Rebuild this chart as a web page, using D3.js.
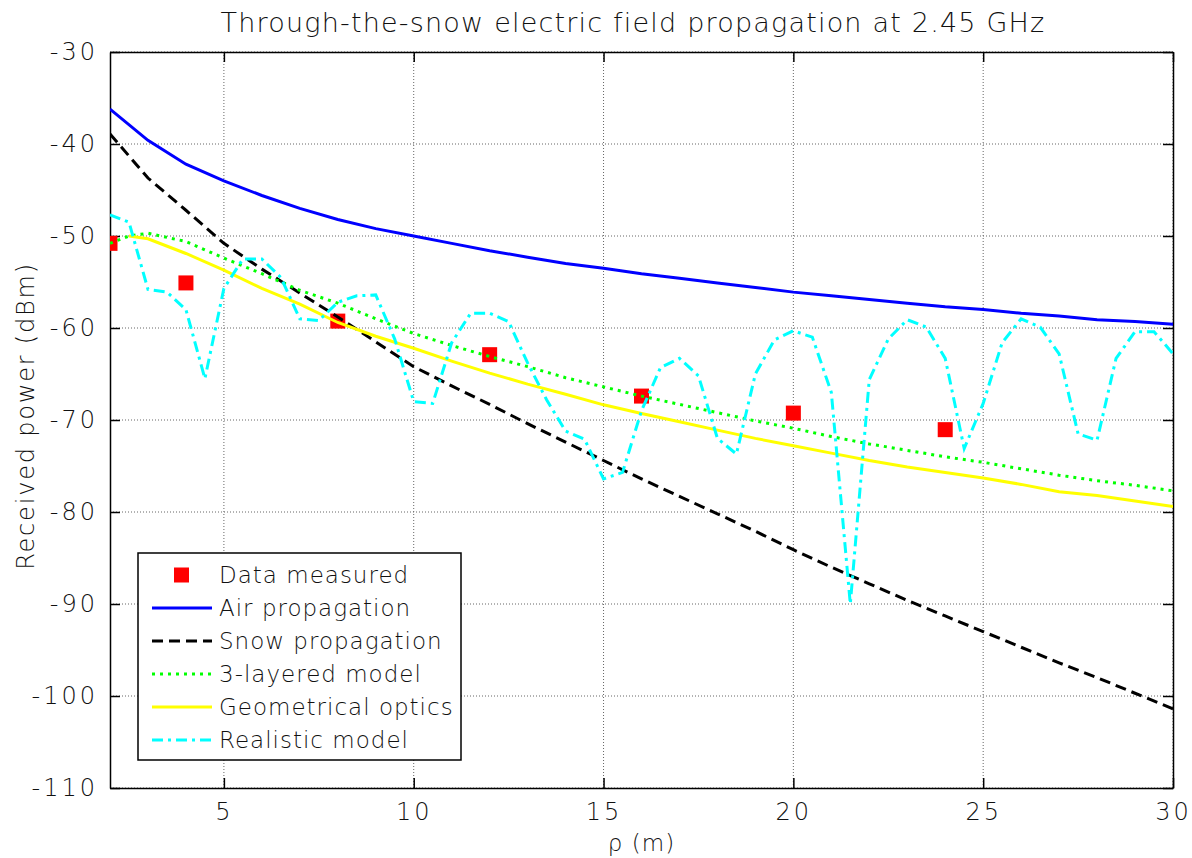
<!DOCTYPE html>
<html>
<head>
<meta charset="utf-8">
<script src="https://cdn.jsdelivr.net/npm/d3@7"></script>
<style>
  body { margin: 0; background: #fff; }
  text { font-family: "DejaVu Sans", sans-serif; font-weight: 200; fill: #111; }
</style>
</head>
<body>
<div id="chart"></div>
<script>
// distances (m)
const rho = [2, 3, 4, 5, 6, 7, 8, 9, 10, 11, 12, 13, 14, 15, 16, 17, 18, 19, 20, 21, 22, 23, 24, 25, 26, 27, 28, 29, 30];
const airPower = [-36.2, -39.6, -42.2, -44.0, -45.6, -47.0, -48.2, -49.2, -50.0, -50.8, -51.6, -52.3, -53.0, -53.5, -54.1, -54.6, -55.1, -55.6, -56.1, -56.5, -56.9, -57.3, -57.7, -58.0, -58.4, -58.7, -59.1, -59.3, -59.6];
const snowPower = [-38.9, -43.7, -47.2, -50.8, -53.6, -56.2, -58.8, -61.5, -64.2, -66.3, -68.3, -70.4, -72.4, -74.4, -76.4, -78.3, -80.2, -82.1, -84.1, -86.0, -87.8, -89.6, -91.3, -93.0, -94.7, -96.4, -98.0, -99.7, -101.4];

const layeredRho = [2, 2.5, 3, 4, 5, 6, 7, 8, 9, 10, 11, 12, 13, 14, 15, 16, 17, 18, 19, 20, 21, 22, 23, 24, 25, 26, 27, 28, 29, 30];
const layeredPower = [-50.8, -50.0, -49.7, -50.6, -52.4, -54.1, -55.9, -57.3, -59.0, -60.6, -61.9, -63.1, -64.2, -65.4, -66.4, -67.4, -68.3, -69.2, -70.1, -70.9, -71.8, -72.6, -73.3, -74.0, -74.6, -75.3, -76.0, -76.6, -77.1, -77.7];

const geoRho = [2.5, 3, 4, 5, 6, 7, 8, 9, 10, 11, 12, 13, 14, 15, 16, 17, 18, 19, 20, 21, 22, 23, 24, 25, 26, 27, 28, 29, 30];
const geoPower = [-50.0, -50.3, -51.9, -53.7, -55.7, -57.4, -59.4, -60.9, -62.2, -63.6, -64.9, -66.1, -67.2, -68.35, -69.3, -70.2, -71.1, -72.0, -72.8, -73.6, -74.4, -75.1, -75.7, -76.3, -77.0, -77.8, -78.2, -78.8, -79.4];

const realRho = [2, 2.5, 3, 3.5, 4, 4.5, 5, 5.5, 6, 6.5, 7, 7.5, 8, 8.5, 9, 9.5, 10, 10.5, 11, 11.5, 12, 12.5, 13, 13.5, 14, 14.5, 15, 15.5, 16, 16.5, 17, 17.5, 18, 18.5, 19, 19.5, 20, 20.5, 21, 21.5, 22, 22.5, 23, 23.5, 24, 24.5, 25, 25.5, 26, 26.5, 27, 27.5, 28, 28.5, 29, 29.5, 30];
const realPower = [-47.7, -48.5, -55.8, -56.1, -58.0, -65.5, -55.7, -52.5, -52.5, -54.5, -59.0, -59.2, -57.2, -56.5, -56.4, -61.2, -68.0, -68.2, -61.6, -58.4, -58.4, -59.3, -63.8, -67.8, -71.2, -72.1, -76.4, -75.7, -69.0, -64.3, -63.3, -65.2, -72.0, -73.7, -65.0, -61.3, -60.3, -61.0, -67.0, -90.0, -65.6, -61.2, -59.1, -59.9, -63.3, -73.1, -68.2, -61.6, -59.0, -59.9, -62.8, -71.5, -72.2, -63.3, -60.4, -60.4, -62.8];

const measuredRho = [2, 4, 8, 12, 16, 20, 24];
const measuredPower = [-50.8, -55.1, -59.25, -62.9, -67.4, -69.25, -71.05];

const xTicks = [5, 10, 15, 20, 25, 30];
const yTicks = [-110, -100, -90, -80, -70, -60, -50, -40, -30];

const width = 1192, height = 858;
const margin = {top: 52, right: 19, bottom: 70, left: 110};

const svg = d3.select("#chart").append("svg")
  .attr("width", width)
  .attr("height", height);

const x = d3.scaleLinear().domain([2, 30]).range([margin.left, width - margin.right]);
const y = d3.scaleLinear().domain([-110, -30]).range([height - margin.bottom, margin.top]);

// grid
const grid = svg.append("g");
grid.selectAll(".gx").data(xTicks).enter().append("line")
  .attr("x1", d => x(d)).attr("x2", d => x(d))
  .attr("y1", y(-30)).attr("y2", y(-110))
  .attr("stroke", "#666").attr("stroke-width", 1).attr("stroke-dasharray", "1,2");
grid.selectAll(".gy").data(yTicks).enter().append("line")
  .attr("x1", x(2)).attr("x2", x(30))
  .attr("y1", d => y(d)).attr("y2", d => y(d))
  .attr("stroke", "#666").attr("stroke-width", 1).attr("stroke-dasharray", "1,2");

// axes with inward ticks
const xAxis = svg.append("g")
  .attr("transform", `translate(0,${y(-110)})`)
  .call(d3.axisBottom(x).tickValues(xTicks).tickSizeInner(-10).tickSizeOuter(0).tickPadding(15));
const xAxisTop = svg.append("g")
  .attr("transform", `translate(0,${y(-30)})`)
  .call(d3.axisTop(x).tickValues(xTicks).tickSizeInner(-10).tickSizeOuter(0).tickFormat(""));
const yAxis = svg.append("g")
  .attr("transform", `translate(${x(2)},0)`)
  .call(d3.axisLeft(y).tickValues(yTicks).tickSizeInner(-10).tickSizeOuter(0).tickPadding(12));
const yAxisRight = svg.append("g")
  .attr("transform", `translate(${x(30)},0)`)
  .call(d3.axisRight(y).tickValues(yTicks).tickSizeInner(-10).tickSizeOuter(0).tickFormat(""));

[xAxis, xAxisTop, yAxis, yAxisRight].forEach(a => {
  a.select(".domain").attr("stroke", "#000").attr("stroke-width", 1.5);
  a.selectAll(".tick line").attr("stroke", "#000").attr("stroke-width", 1.5);
  a.selectAll(".tick text").style("font-size", "24px").attr("fill", "#111")
    .style("letter-spacing", "3px")
    .style("font-family", "\"DejaVu Sans\", sans-serif").style("font-weight", 200);
});
yAxis.selectAll(".tick text").text(d => d < 0 ? "-" + Math.abs(d) : d);

// clip
svg.append("clipPath").attr("id", "clip").append("rect")
  .attr("x", x(2)).attr("y", y(-30))
  .attr("width", x(30) - x(2)).attr("height", y(-110) - y(-30));

const line = d3.line().x(d => x(d[0])).y(d => y(d[1]));
const zip = (a, b) => a.map((v, i) => [v, b[i]]);

const series = [
  {name: "Air propagation", xs: rho, ys: airPower, color: "#0000ff", dash: null},
  {name: "Snow propagation", xs: rho, ys: snowPower, color: "#000000", dash: "11,6"},
  {name: "3-layered model", xs: layeredRho, ys: layeredPower, color: "#00ff00", dash: "3,5"},
  {name: "Geometrical optics", xs: geoRho, ys: geoPower, color: "#ffff00", dash: null},
  {name: "Realistic model", xs: realRho, ys: realPower, color: "#00ffff", dash: "11,5,3,5"}
];

const plot = svg.append("g").attr("clip-path", "url(#clip)");

// markers drawn below the lines
plot.selectAll(".meas").data(zip(measuredRho, measuredPower)).enter().append("rect")
  .attr("x", d => x(d[0]) - 7.5).attr("y", d => y(d[1]) - 7.5)
  .attr("width", 15).attr("height", 15)
  .attr("fill", "#ff0000");

series.forEach(s => {
  plot.append("path")
    .datum(zip(s.xs, s.ys))
    .attr("fill", "none")
    .attr("stroke", s.color)
    .attr("stroke-width", 3)
    .attr("stroke-dasharray", s.dash)
    .attr("d", line);
});

// title and labels
svg.append("text")
  .attr("x", 633).attr("y", 32)
  .attr("text-anchor", "middle")
  .style("font-size", "27px")
  .style("letter-spacing", "1.2px")
  .text("Through-the-snow electric field propagation at 2.45 GHz");

svg.append("text")
  .attr("x", (x(2) + x(30)) / 2).attr("y", 851)
  .attr("text-anchor", "middle")
  .style("font-size", "23px")
  .style("letter-spacing", "1px")
  .text("ρ (m)");

svg.append("text")
  .attr("transform", `translate(34,${(y(-30) + y(-110)) / 2 - 4}) rotate(-90)`)
  .attr("text-anchor", "middle")
  .style("font-size", "24px")
  .style("letter-spacing", "1.8px")
  .text("Received power (dBm)");

// legend
const legend = svg.append("g").attr("transform", "translate(138,553)");
legend.append("rect")
  .attr("width", 323).attr("height", 207)
  .attr("fill", "#fff").attr("stroke", "#000").attr("stroke-width", 1.5);

const rowH = 33;
const legendRows = [{name: "Data measured", marker: true}].concat(series);
legendRows.forEach((s, i) => {
  const cy = 22 + i * rowH;
  if (s.marker) {
    legend.append("rect")
      .attr("x", 36).attr("y", cy - 7.5)
      .attr("width", 15).attr("height", 15)
      .attr("fill", "#ff0000");
  } else {
    legend.append("line")
      .attr("x1", 14).attr("x2", 74)
      .attr("y1", cy).attr("y2", cy)
      .attr("stroke", s.color).attr("stroke-width", 3)
      .attr("stroke-dasharray", s.dash);
  }
  legend.append("text")
    .attr("x", 81).attr("y", cy + 8)
    .style("font-size", "23px")
    .style("letter-spacing", "1px")
    .text(s.name);
});
</script>
</body>
</html>
